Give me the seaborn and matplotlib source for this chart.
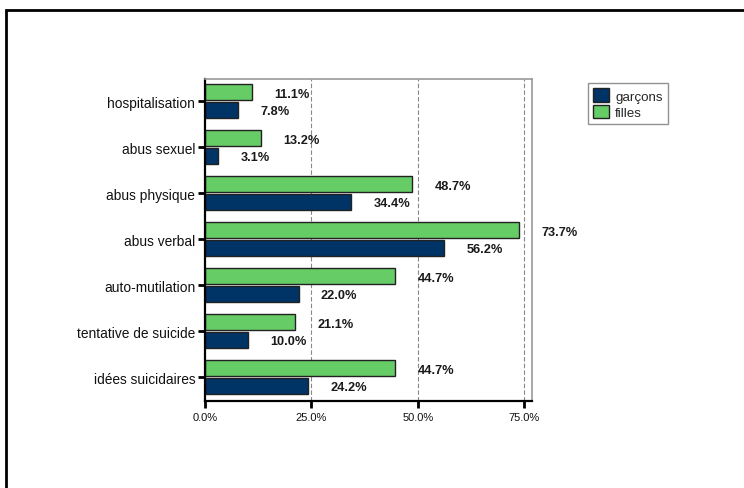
import matplotlib
matplotlib.use("Agg")
import matplotlib.pyplot as plt
import seaborn as sns
import pandas as pd
from matplotlib.patches import Patch, Rectangle
from matplotlib.ticker import FuncFormatter

categories = ["hospitalisation", "abus sexuel", "abus physique", "abus verbal",
              "auto-mutilation", "tentative de suicide", "idées suicidaires"]
garcons = [7.8, 3.1, 34.4, 56.2, 22.0, 10.0, 24.2]
filles = [11.1, 13.2, 48.7, 73.7, 44.7, 21.1, 44.7]
series_names = ["garçons", "filles"]
x_ticks = [0, 25, 50, 75]

c_blue = "#003366"
c_green = "#66CC66"

sns.set_theme(style="white")
plt.rcParams["font.family"] = ["Liberation Sans", "DejaVu Sans"]

rows = []
for c, g, f in zip(categories, garcons, filles):
    rows.append({"cat": c, "serie": "filles", "val": f})
    rows.append({"cat": c, "serie": "garçons", "val": g})
df = pd.DataFrame(rows)

fig = plt.figure(figsize=(7.44, 4.89), dpi=100)
ax = fig.add_axes([205 / 744, 1 - 402 / 489, (532 - 205) / 744, (402 - 80) / 489])

sns.barplot(data=df, y="cat", x="val", hue="serie", order=categories,
            hue_order=["filles", "garçons"],
            palette={"filles": c_green, "garçons": c_blue}, saturation=1,
            orient="h", width=0.76, gap=0.08, edgecolor="#222222",
            linewidth=1.0, ax=ax, legend=False)

for cont in ax.containers:
    for bar in cont:
        w = bar.get_width()
        yc = bar.get_y() + bar.get_height() / 2
        ax.annotate(f"{w:.1f}%", xy=(w, yc), xytext=(16, -1),
                    textcoords="offset points", ha="left", va="center",
                    fontsize=9.2, fontweight="bold", color="#1a1a1a",
                    annotation_clip=False)

ax.set_xlim(0, 76.8)
ax.set_ylim(6.52, -0.48)
ax.set_xticks(x_ticks)
ax.xaxis.set_major_formatter(FuncFormatter(lambda v, p: f"{v:.1f}%"))
ax.set_xlabel("")
ax.set_ylabel("")
for t in x_ticks[1:]:
    ax.axvline(t, color="#888888", linestyle=(0, (4, 2)), linewidth=0.8, zorder=0)

ax.tick_params(axis="x", labelsize=8, length=5, width=2, color="black",
               direction="out", bottom=True, pad=3, labelcolor="#111111")
ax.tick_params(axis="y", labelsize=9.9, length=5, width=2, color="black",
               direction="out", left=True, pad=2, labelcolor="#111111")
for s in ["top", "right"]:
    ax.spines[s].set_color("#999999")
    ax.spines[s].set_linewidth(1.2)
for s in ["left", "bottom"]:
    ax.spines[s].set_color("black")
    ax.spines[s].set_linewidth(1.6)

handles = [Patch(facecolor=c_blue, edgecolor="#222222", label="garçons"),
           Patch(facecolor=c_green, edgecolor="#222222", label="filles")]
leg = fig.legend(handles=handles, loc="upper left",
                 bbox_to_anchor=(588 / 744, 1 - 84 / 489), fontsize=9.6,
                 frameon=True, fancybox=False, handlelength=1.2,
                 handleheight=1.2, handletextpad=0.45, borderpad=0.4,
                 labelspacing=0.15, borderaxespad=0)
leg.get_frame().set_edgecolor("#777777")
leg.get_frame().set_linewidth(1.0)

fig.patches.append(Rectangle((6 / 744, -0.05), 1.1, 1 - 11 / 489 + 0.05,
                             transform=fig.transFigure, fill=False,
                             edgecolor="black", linewidth=2, zorder=10))

fig.savefig("out.png", dpi=100)
